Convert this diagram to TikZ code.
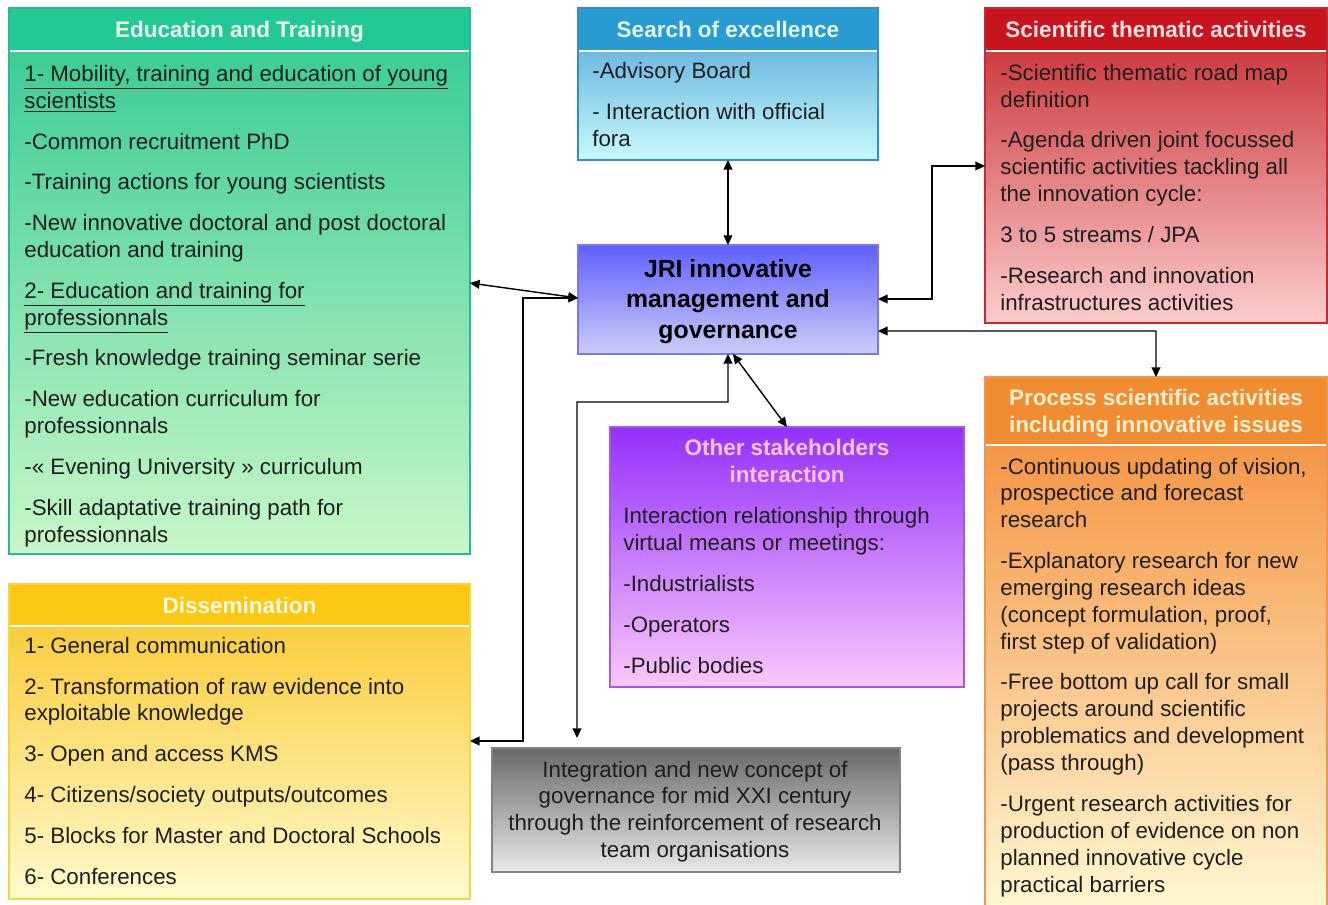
\documentclass[tikz,border=0pt]{standalone}
\usepackage{fontspec}
\setmainfont{Liberation Sans}
\usetikzlibrary{arrows.meta,calc}
\definecolor{edhead}{RGB}{34,200,150}
\definecolor{edtop}{RGB}{60,205,150}
\definecolor{edbot}{RGB}{200,247,200}
\definecolor{edline}{RGB}{40,185,150}
\definecolor{edtxt}{RGB}{235,255,235}
\definecolor{sehead}{RGB}{40,155,210}
\definecolor{setop}{RGB}{110,185,225}
\definecolor{sebot}{RGB}{200,250,252}
\definecolor{seline}{RGB}{50,140,200}
\definecolor{setxt}{RGB}{225,248,255}
\definecolor{schead}{RGB}{200,20,30}
\definecolor{sctop}{RGB}{205,60,65}
\definecolor{scbot}{RGB}{252,205,205}
\definecolor{scline}{RGB}{200,40,50}
\definecolor{sctxt}{RGB}{255,225,225}
\definecolor{jrtop}{RGB}{95,95,255}
\definecolor{jrbot}{RGB}{205,205,248}
\definecolor{jrline}{RGB}{120,120,235}
\definecolor{sttop}{RGB}{148,48,252}
\definecolor{stmid}{RGB}{212,150,248}
\definecolor{stbot}{RGB}{250,200,250}
\definecolor{stline}{RGB}{160,90,230}
\definecolor{sttxt}{RGB}{250,195,230}
\definecolor{prhead}{RGB}{240,140,50}
\definecolor{prtop}{RGB}{245,150,70}
\definecolor{prbot}{RGB}{255,248,210}
\definecolor{prline}{RGB}{240,150,80}
\definecolor{prtxt}{RGB}{255,240,205}
\definecolor{dihead}{RGB}{252,200,20}
\definecolor{ditop}{RGB}{250,205,60}
\definecolor{dibot}{RGB}{255,250,205}
\definecolor{diline}{RGB}{245,215,60}
\definecolor{ditxt}{RGB}{255,250,225}
\definecolor{grtop}{RGB}{105,105,105}
\definecolor{grbot}{RGB}{232,232,232}
\definecolor{grline}{RGB}{130,130,130}
\definecolor{bodytxt}{RGB}{30,30,30}
\tikzset{
  bodytext/.style={anchor=base west, align=left, inner sep=0pt, text=bodytxt,
    font=\fontsize{12.7pt}{15.3pt}\selectfont},
  headtext/.style={anchor=base, align=center, inner sep=0pt,
    font=\fontsize{12.8pt}{15.3pt}\selectfont\bfseries},
  frame/.style={draw, line width=0.85pt, inner sep=0pt, outer sep=0pt, anchor=north west},
  sepline/.style={white, line width=1.3pt},
  conn/.style={{Triangle[length=5.5pt,width=5pt]}-{Triangle[length=5.5pt,width=5pt]},
    line width=0.8pt, black},
}
\begin{document}
\begin{tikzpicture}[x=0.02cm,y=-0.02cm]
\useasboundingbox (0,0) rectangle (1328,904);
\fill[white] (0,0) rectangle (1328,904);

% Education and Training
\shade[top color=edtop,bottom color=edbot] (9,51) rectangle (470,554);
\fill[edhead] (9,8) rectangle (470,51);
\draw[sepline] (9,51) -- (470,51);
\node[frame,draw=edline,minimum width=9.22cm,minimum height=10.92cm] (edu) at (9,8) {};
\node[headtext,text=edtxt] (eduh) at (239.5,37) {Education and Training};
\node[bodytext] (edub) at (24,542) {\underline{1- Mobility, training and education of young}\\
\underline{scientists}\\[7.9pt]
-Common recruitment PhD\\[7.9pt]
-Training actions for young scientists\\[7.9pt]
-New innovative doctoral and post doctoral\\
education and training\\[7.9pt]
\underline{2- Education and training for}\\
\underline{professionnals}\\[7.9pt]
-Fresh knowledge training seminar serie\\[7.9pt]
-New education curriculum for\\
professionnals\\[7.9pt]
-« Evening University » curriculum\\[7.9pt]
-Skill adaptative training path for\\
professionnals};

% Search of excellence
\shade[top color=setop,bottom color=sebot] (578,51) rectangle (878,160);
\fill[sehead] (578,8) rectangle (878,51);
\draw[sepline] (578,51) -- (878,51);
\node[frame,draw=seline,minimum width=6cm,minimum height=3.04cm] (search) at (578,8) {};
\node[headtext,text=setxt] (searchh) at (728,37) {Search of excellence};
\node[bodytext] (searchb) at (592,146) {-Advisory Board\\[7.9pt]
- Interaction with official\\
fora};

% Scientific thematic activities
\shade[top color=sctop,bottom color=scbot] (985,51) rectangle (1327,323);
\fill[schead] (985,8) rectangle (1327,51);
\draw[sepline] (985,51) -- (1327,51);
\node[frame,draw=scline,minimum width=6.84cm,minimum height=6.3cm] (sci) at (985,8) {};
\node[headtext,text=sctxt] (scih) at (1156,37) {Scientific thematic activities};
\node[bodytext] (scib) at (1000,310) {-Scientific thematic road map\\
definition\\[7.9pt]
-Agenda driven joint focussed\\
scientific activities tackling all\\
the innovation cycle:\\[7.9pt]
3 to 5 streams / JPA\\[7.9pt]
-Research and innovation\\
infrastructures activities};

% JRI
\node[frame,draw=jrline,top color=jrtop,bottom color=jrbot,minimum width=6cm,minimum height=2.18cm] (jri) at (578,245) {};
\node[headtext,text=black,font=\fontsize{14.1pt}{17.1pt}\selectfont\bfseries] (jrit) at (728,338) {JRI innovative\\management and\\governance};

% Other stakeholders
\node[frame,draw=stline,top color=sttop,middle color=stmid,bottom color=stbot,minimum width=7.08cm,minimum height=5.2cm] (stake) at (610,427) {};
\node[headtext,text=sttxt] (stakeh) at (787,482) {Other stakeholders\\interaction};
\node[bodytext] (stakeb) at (623,673) {Interaction relationship through\\
virtual means or meetings:\\[7.9pt]
-Industrialists\\[7.9pt]
-Operators\\[7.9pt]
-Public bodies};

% Process scientific activities
\shade[top color=prtop,bottom color=prbot] (985,445) rectangle (1327,910);
\fill[prhead] (985,377) rectangle (1327,445);
\draw[sepline] (985,445) -- (1327,445);
\node[frame,draw=prline,minimum width=6.84cm,minimum height=10.66cm] (proc) at (985,377) {};
\node[headtext,text=prtxt] (proch) at (1156,432) {Process scientific activities\\including innovative issues};
\node[bodytext] (procb) at (1000,892) {-Continuous updating of vision,\\
prospectice and forecast\\
research\\[7.9pt]
-Explanatory research for new\\
emerging research ideas\\
(concept formulation, proof,\\
first step of validation)\\[7.9pt]
-Free bottom up call for small\\
projects around scientific\\
problematics and development\\
(pass through)\\[7.9pt]
-Urgent research activities for\\
production of evidence on non\\
planned innovative cycle\\
practical barriers};

% Dissemination
\shade[top color=ditop,bottom color=dibot] (9,626) rectangle (470,899);
\fill[dihead] (9,584) rectangle (470,626);
\draw[sepline] (9,626) -- (470,626);
\node[frame,draw=diline,minimum width=9.22cm,minimum height=6.3cm] (diss) at (9,584) {};
\node[headtext,text=ditxt] (dissh) at (239.5,613) {Dissemination};
\node[bodytext] (dissb) at (24,884) {1- General communication\\[7.9pt]
2- Transformation of raw evidence into\\
exploitable knowledge\\[7.9pt]
3- Open and access KMS\\[7.9pt]
4- Citizens/society outputs/outcomes\\[7.9pt]
5- Blocks for Master and Doctoral Schools\\[7.9pt]
6- Conferences};

% Integration box
\node[frame,draw=grline,top color=grtop,bottom color=grbot,minimum width=8.16cm,minimum height=2.48cm] (grey) at (492,748) {};
\node[anchor=base,align=center,inner sep=0pt,text=bodytxt,font=\fontsize{12.7pt}{15.1pt}\selectfont] (greyt) at (695,857) {Integration and new concept of\\governance for mid XXI century\\through the reinforcement of research\\team organisations};

% Connectors
\draw[conn] (search.south) -- (jri.north);
\draw[conn] (edu.east |- 0,283) -- (jri.west |- 0,298);
\draw[conn] (diss.east |- 0,741) -- (523,741) -- (523,298) -- (jri.west |- 0,298);
\draw[conn,shorten >=5.7pt] (jri.south) -- (728,402) -- (577,402) -- (grey.north -| 577,0);
\draw[conn] ($(jri.south)+(5,0)$) -- (stake.north);
\draw[conn] (jri.east |- 0,299) -- (932,299) -- (932,166) -- (sci.west |- 0,166);
\draw[conn] (jri.east |- 0,331) -- (1156,331) -- (proc.north);
\end{tikzpicture}
\end{document}
